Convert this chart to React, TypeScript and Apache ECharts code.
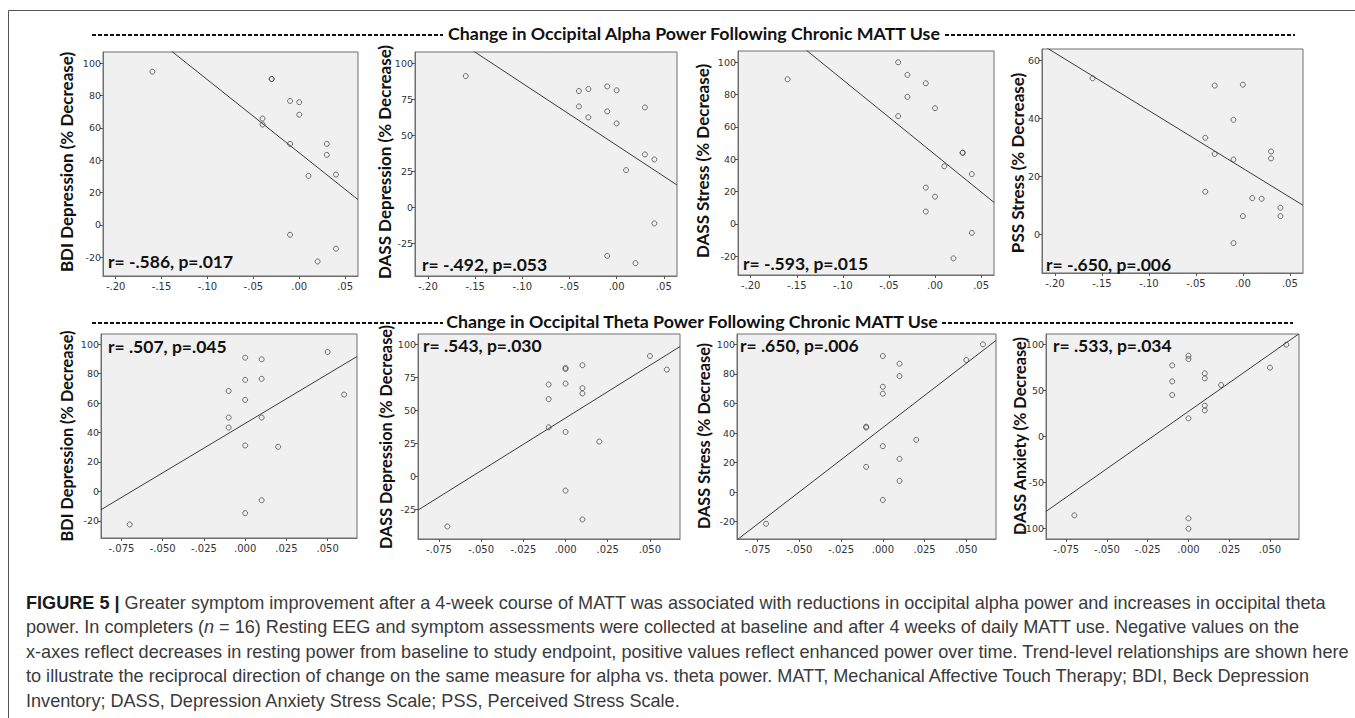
import { useEffect, useRef } from "react";
import * as echarts from "echarts";

// ---------- tick labels / axis domains ----------
const alphaTicks = [-0.2, -0.15, -0.1, -0.05, 0, 0.05];
const thetaTicks = [-0.075, -0.05, -0.025, 0, 0.025, 0.05];
const alphaRange = [-0.2138, 0.064];
const thetaRange = [-0.0874, 0.0678];

const ticks20 = [-20, 0, 20, 40, 60, 80, 100];
const ticks25 = [-25, 0, 25, 50, 75, 100];
const ticksPss = [0, 20, 40, 60];
const ticks50 = [-100, -50, 0, 50, 100];

const range20 = [-31.7, 107];
const range25 = [-47.6, 107.9];
const rangePss = [-13.2, 64];
const range50 = [-111.2, 111.6];

// ---------- names / stats ----------
const yNames = [
  "BDI Depression (% Decrease)",
  "DASS Depression (% Decrease)",
  "DASS Stress (% Decrease)",
  "PSS Stress (% Decrease)",
  "BDI Depression (% Decrease)",
  "DASS Depression (% Decrease)",
  "DASS Stress (% Decrease)",
  "DASS Anxiety (% Decrease)",
];
const stats = [
  "r= -.586, p=.017",
  "r= -.492, p=.053",
  "r= -.593, p=.015",
  "r= -.650, p=.006",
  "r= .507, p=.045",
  "r= .543, p=.030",
  "r= .650, p=.006",
  "r= .533, p=.034",
];
const headers = [
  "Change in Occipital Alpha Power Following Chronic MATT Use",
  "Change in Occipital Theta Power Following Chronic MATT Use",
];

// ---------- data ----------
const alphaBdiX = [-0.16, -0.03, -0.03, -0.01, 0.0, 0.0, -0.04, -0.04, -0.01, 0.03, 0.03, 0.01, 0.04, -0.01, 0.04, 0.02];
const alphaBdiY = [94.8, 90.3, 90.3, 76.7, 75.9, 68.2, 65.8, 62.1, 50.1, 50.1, 43.3, 30.3, 31.1, -6.2, -14.8, -22.7];

const alphaDassDepX = [-0.16, -0.04, -0.03, -0.01, 0.0, -0.04, -0.03, -0.01, 0.0, 0.03, 0.03, 0.04, 0.01, 0.04, -0.01, 0.02];
const alphaDassDepY = [91.2, 80.8, 82.2, 84.0, 81.3, 70.1, 62.5, 66.7, 58.3, 69.4, 36.8, 33.3, 25.9, -11.1, -33.6, -38.7];

const alphaDassStrX = [-0.16, -0.04, -0.03, -0.01, -0.03, 0.0, -0.04, 0.03, 0.03, 0.01, 0.04, -0.01, 0.0, -0.01, 0.04, 0.02];
const alphaDassStrY = [89.5, 100, 92.2, 87.0, 78.6, 71.6, 66.7, 44.0, 44.0, 35.6, 30.8, 22.4, 16.8, 7.6, -5.6, -21.4];

const alphaPssX = [-0.16, -0.03, 0.0, -0.01, -0.04, -0.03, -0.01, 0.03, 0.03, -0.04, 0.01, 0.02, 0.04, 0.04, 0.0, -0.01];
const alphaPssY = [53.9, 51.4, 51.7, 39.6, 33.4, 27.8, 25.9, 28.7, 26.3, 14.8, 12.6, 12.4, 9.3, 6.4, 6.4, -2.9];

const thetaBdiX = [0.05, 0.0, 0.01, 0.0, 0.01, -0.01, 0.06, 0.0, -0.01, 0.01, -0.01, 0.0, 0.02, 0.01, 0.0, -0.07];
const thetaBdiY = [94.8, 90.9, 89.8, 75.8, 76.5, 68.3, 65.8, 62.2, 50.2, 50.2, 43.4, 31.2, 30.3, -6.0, -14.8, -22.5];

const thetaDassDepX = [0.05, 0.06, 0.0, 0.0, 0.01, -0.01, 0.0, 0.01, 0.01, -0.01, -0.01, 0.0, 0.02, 0.0, 0.01, -0.07];
const thetaDassDepY = [91.2, 80.9, 82.2, 81.3, 84.2, 69.6, 70.3, 66.8, 62.8, 58.5, 37.1, 33.6, 26.3, -10.9, -32.8, -38.1];

const thetaDassStrX = [0.06, 0.05, 0.0, 0.01, 0.01, 0.0, 0.0, -0.01, -0.01, 0.02, 0.0, 0.01, -0.01, 0.01, 0.0, -0.07];
const thetaDassStrY = [100, 89.4, 92.1, 86.9, 78.5, 71.3, 66.6, 44.3, 43.7, 35.4, 31.1, 22.5, 17.1, 7.6, -5.3, -21.4];

const thetaDassAnxX = [0.06, 0.05, 0.0, 0.0, -0.01, -0.01, -0.01, 0.01, 0.01, 0.02, 0.01, 0.01, 0.0, -0.07, 0.0, 0.0];
const thetaDassAnxY = [100, 75.0, 88.0, 84.4, 77.5, 60.1, 45.3, 68.8, 63.4, 56.2, 33.7, 28.6, 19.9, -85.5, -88.8, -100];

const captionLines = [
  "{b|FIGURE 5 |} Greater symptom improvement after a 4-week course of MATT was associated with reductions in occipital alpha power and increases in occipital theta",
  "power. In completers ({i|n} = 16) Resting EEG and symptom assessments were collected at baseline and after 4 weeks of daily MATT use. Negative values on the",
  "x-axes reflect decreases in resting power from baseline to study endpoint, positive values reflect enhanced power over time. Trend-level relationships are shown here",
  "to illustrate the reciprocal direction of change on the same measure for alpha vs. theta power. MATT, Mechanical Affective Touch Therapy; BDI, Beck Depression",
  "Inventory; DASS, Depression Anxiety Stress Scale; PSS, Perceived Stress Scale.",
];

// ---------- panel assembly ----------
const panelData = [
  { xs: alphaBdiX, ys: alphaBdiY, xt: alphaTicks, xr: alphaRange, yt: ticks20, yr: range20, dec: 2 },
  { xs: alphaDassDepX, ys: alphaDassDepY, xt: alphaTicks, xr: alphaRange, yt: ticks25, yr: range25, dec: 2 },
  { xs: alphaDassStrX, ys: alphaDassStrY, xt: alphaTicks, xr: alphaRange, yt: ticks20, yr: range20, dec: 2 },
  { xs: alphaPssX, ys: alphaPssY, xt: alphaTicks, xr: alphaRange, yt: ticksPss, yr: rangePss, dec: 2 },
  { xs: thetaBdiX, ys: thetaBdiY, xt: thetaTicks, xr: thetaRange, yt: ticks20, yr: range20, dec: 3 },
  { xs: thetaDassDepX, ys: thetaDassDepY, xt: thetaTicks, xr: thetaRange, yt: ticks25, yr: range25, dec: 3 },
  { xs: thetaDassStrX, ys: thetaDassStrY, xt: thetaTicks, xr: thetaRange, yt: ticks20, yr: range20, dec: 3 },
  { xs: thetaDassAnxX, ys: thetaDassAnxY, xt: thetaTicks, xr: thetaRange, yt: ticks50, yr: range50, dec: 3 },
];

// layout (pixels)
const layout = [
  { left: 103, top: 52, width: 255, height: 224, nameX: 66, nameY: 162, nameSize: 17, statX: 108, statY: 261 },
  { left: 415, top: 52, width: 262, height: 224, nameX: 384, nameY: 162, nameSize: 17, statX: 422, statY: 264 },
  { left: 738, top: 51, width: 256, height: 224, nameX: 702, nameY: 161, nameSize: 17, statX: 743, statY: 263 },
  { left: 1042, top: 49, width: 261, height: 224, nameX: 1017, nameY: 163, nameSize: 17, statX: 1046, statY: 264 },
  { left: 101, top: 334, width: 256, height: 204, nameX: 66, nameY: 436, nameSize: 16.3, statX: 108, statY: 346 },
  { left: 418, top: 334, width: 262, height: 205, nameX: 385, nameY: 437, nameSize: 16.3, statX: 423, statY: 345 },
  { left: 737, top: 334, width: 259, height: 205, nameX: 703, nameY: 436, nameSize: 16.3, statX: 740, statY: 345 },
  { left: 1046, top: 334, width: 253, height: 205, nameX: 1019, nameY: 436, nameSize: 16.3, statX: 1053, statY: 345 },
];

function fitLine(xs: number[], ys: number[]) {
  const n = xs.length;
  const mx = xs.reduce((a, b) => a + b, 0) / n;
  const my = ys.reduce((a, b) => a + b, 0) / n;
  let sxy = 0;
  let sxx = 0;
  for (let i = 0; i < n; i++) {
    sxy += (xs[i] - mx) * (ys[i] - my);
    sxx += (xs[i] - mx) * (xs[i] - mx);
  }
  const b = sxy / sxx;
  return { a: my - b * mx, b };
}

function fmt(dec: number) {
  return (v: number) => {
    const s = Math.abs(v).toFixed(dec).replace(/^0/, "");
    return (v < -1e-9 ? "-" : "") + s;
  };
}

const FIG_FONT = "Lato, 'Open Sans', sans-serif";
const TICK_FONT = "'DejaVu Sans', Verdana, sans-serif";
const CAP_FONT = "'Liberation Sans', Arial, sans-serif";
const CAP_SIZE = 18.1;

function buildOption() {
  const grid: any[] = [];
  const xAxis: any[] = [];
  const yAxis: any[] = [];
  const series: any[] = [];
  const graphic: any[] = [];

  panelData.forEach((p, i) => {
    const L = layout[i];
    grid.push({
      left: L.left,
      top: L.top,
      width: L.width,
      height: L.height,
      show: true,
      backgroundColor: "#f0f0f0",
      borderColor: "#6e6e6e",
      borderWidth: 1,
      outerBoundsMode: "none",
      containLabel: false,
    });
    xAxis.push({
      type: "value",
      gridIndex: i,
      min: p.xr[0],
      max: p.xr[1],
      axisLine: { show: true, onZero: false, lineStyle: { color: "#6e6e6e", width: 1 } },
      axisTick: { show: true, inside: false, length: 3, customValues: p.xt, lineStyle: { color: "#555" } },
      axisLabel: {
        show: true,
        customValues: p.xt,
        formatter: fmt(p.dec),
        fontSize: 10,
        fontFamily: TICK_FONT,
        color: "#333",
        margin: 5,
      },
      splitLine: { show: false },
    });
    yAxis.push({
      type: "value",
      gridIndex: i,
      min: p.yr[0],
      max: p.yr[1],
      axisLine: { show: true, onZero: false, lineStyle: { color: "#6e6e6e", width: 1 } },
      axisTick: { show: true, inside: false, length: 3, customValues: p.yt, lineStyle: { color: "#555" } },
      axisLabel: {
        show: true,
        customValues: p.yt,
        fontSize: 9.5,
        fontFamily: TICK_FONT,
        color: "#333",
        margin: 2,
      },
      splitLine: { show: false },
    });
    const f = fitLine(p.xs, p.ys);
    series.push({
      type: "line",
      xAxisIndex: i,
      yAxisIndex: i,
      data: [
        [p.xr[0], f.a + f.b * p.xr[0]],
        [p.xr[1], f.a + f.b * p.xr[1]],
      ],
      symbol: "none",
      clip: true,
      silent: true,
      lineStyle: { color: "#3a3a3a", width: 1 },
      z: 2,
    });
    series.push({
      type: "scatter",
      xAxisIndex: i,
      yAxisIndex: i,
      data: p.xs.map((x, k) => [x, p.ys[k]]),
      symbol: "circle",
      symbolSize: 5,
      silent: true,
      itemStyle: { color: "rgba(0,0,0,0)", borderColor: "#3a3a3a", borderWidth: 0.9 },
      z: 3,
    });

    graphic.push({
      type: "text",
      x: L.nameX,
      y: L.nameY,
      rotation: Math.PI / 2,
      style: {
        text: yNames[i],
        fontFamily: FIG_FONT,
        fontWeight: "bold",
        fontSize: L.nameSize,
        fill: "#111",
        align: "center",
        verticalAlign: "middle",
      },
      z: 10,
    });
    graphic.push({
      type: "text",
      x: L.statX,
      y: L.statY,
      style: {
        text: stats[i],
        fontFamily: FIG_FONT,
        fontWeight: "bold",
        fontSize: 17.5,
        fill: "#111",
        align: "left",
        verticalAlign: "middle",
      },
      z: 10,
    });
  });

  // frame
  graphic.push({ type: "line", shape: { x1: 8.5, y1: 10.5, x2: 1355, y2: 10.5 }, style: { stroke: "#555", lineWidth: 1 } });
  graphic.push({ type: "line", shape: { x1: 8.5, y1: 10.5, x2: 8.5, y2: 718 }, style: { stroke: "#555", lineWidth: 1 } });

  // headers with dashed rules
  const headerRows = [
    { y: 33, dashY: 35, l1: 92, l2: 443, r1: 945, r2: 1295, cx: 694 },
    { y: 321, dashY: 323, l1: 92, l2: 443, r1: 942, r2: 1293, cx: 692 },
  ];
  headerRows.forEach((h, k) => {
    graphic.push({ type: "line", shape: { x1: h.l1, y1: h.dashY, x2: h.l2, y2: h.dashY }, style: { stroke: "#111", lineWidth: 2, lineDash: [4, 2] } });
    graphic.push({ type: "line", shape: { x1: h.r1, y1: h.dashY, x2: h.r2, y2: h.dashY }, style: { stroke: "#111", lineWidth: 2, lineDash: [4, 2] } });
    graphic.push({
      type: "text",
      x: h.cx,
      y: h.y,
      style: {
        text: headers[k],
        fontFamily: FIG_FONT,
        fontWeight: "bold",
        fontSize: 17.8,
        fill: "#111",
        align: "center",
        verticalAlign: "middle",
      },
    });
  });

  // caption
  const capY = [602.5, 627, 651.7, 676.4, 701];
  captionLines.forEach((t, k) => {
    graphic.push({
      type: "text",
      x: 26,
      y: capY[k],
      style: {
        text: t,
        fontFamily: CAP_FONT,
        fontSize: CAP_SIZE,
        fill: "#3a3a3a",
        align: "left",
        verticalAlign: "middle",
        rich: {
          b: { fontFamily: CAP_FONT, fontSize: CAP_SIZE, fontWeight: "bold", fill: "#1a1a1a" },
          i: { fontFamily: CAP_FONT, fontSize: CAP_SIZE, fontStyle: "italic", fill: "#3a3a3a" },
        },
      },
    });
  });

  return {
    animation: false,
    backgroundColor: "#ffffff",
    grid,
    xAxis,
    yAxis,
    series,
    graphic,
  };
}

export default function App() {
  const ref = useRef<HTMLDivElement>(null);
  useEffect(() => {
    document.body.style.margin = "0";
    if (!ref.current) return;
    const chart = echarts.init(ref.current, undefined, { renderer: "svg" });
    chart.setOption(buildOption() as any);
    return () => chart.dispose();
  }, []);
  return <div ref={ref} style={{ width: 1355, height: 718 }} />;
}
